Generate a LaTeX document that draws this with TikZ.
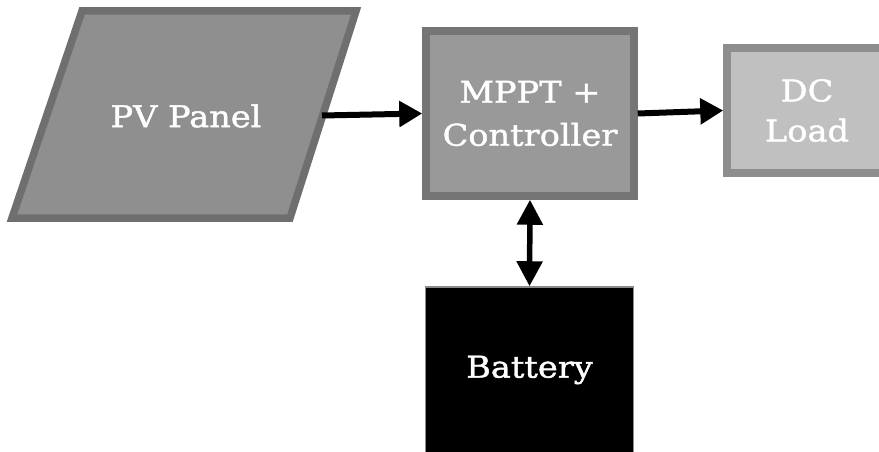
\documentclass[tikz,border=0pt]{standalone}
\usepackage{fontspec}
\setmainfont{DejaVu Serif}[FakeStretch=1.12, FakeBold=1.4]
\usetikzlibrary{arrows.meta}
\definecolor{pvfill}{HTML}{8F8F8F}
\definecolor{pvdraw}{HTML}{6F6F6F}
\definecolor{mpfill}{HTML}{999999}
\definecolor{mpdraw}{HTML}{757575}
\definecolor{dcfill}{HTML}{C0C0C0}
\definecolor{dcdraw}{HTML}{8E8E8E}
\definecolor{batdraw}{HTML}{8A8A8A}
\tikzset{
  lbl/.style={text=white, font=\fontsize{30}{43}\selectfont, align=center},
  blk/.style={lbl, rectangle, line width=7.5pt, inner sep=0pt},
  conn/.style={line width=6pt, -{Triangle[length=23pt,width=25pt]}},
  bconn/.style={line width=5.5pt, {Triangle[length=25pt,width=25pt]}-{Triangle[length=25pt,width=25pt]}}
}
\begin{document}
\begin{tikzpicture}[x=1pt,y=-1pt]
\clip (0,0) rectangle (879,452);
\fill[white] (0,0) rectangle (879,452);
% PV panel parallelogram
\draw[line width=7.5pt, fill=pvfill, draw=pvdraw, line join=miter]
  (82,11) -- (356,11) -- (290,218) -- (12,218) -- cycle;
\node[lbl] (pv) at (186,116) {PV Panel};
\coordinate (pvR) at (322,115.5);
\node[blk, fill=mpfill, draw=mpdraw, minimum width=208pt, minimum height=165pt] (mppt) at (530,113.5) {MPPT +\\Controller};
\node[blk, fill=dcfill, draw=dcdraw, minimum width=160pt, minimum height=125pt, font=\fontsize{30}{40}\selectfont] (dc) at (807,110.5) {DC\\Load};
\node[lbl, rectangle, fill=black, draw=batdraw, line width=1.5pt, minimum width=208pt, minimum height=166pt] (bat) at (529.5,370) {Battery};
\draw[conn] (pvR) -- (mppt.west);
\draw[conn] (mppt.east) -- (dc.west);
\draw[bconn] (mppt.south) -- (bat.north);
\end{tikzpicture}
\end{document}
